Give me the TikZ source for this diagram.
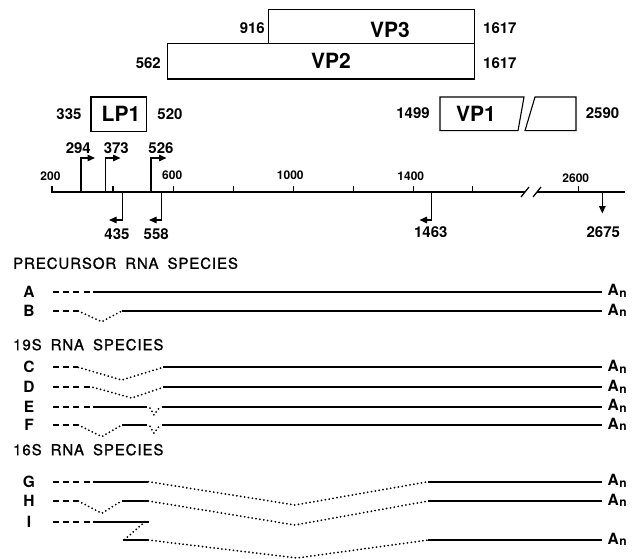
\documentclass[tikz,border=0pt]{standalone}
\usepackage{fontspec}
\setmainfont{TeX Gyre Heros}
\newfontfamily\headfont[FakeBold=1.2,LetterSpace=6]{TeX Gyre Heros}
\usetikzlibrary{arrows.meta}
\begin{document}
\begin{tikzpicture}[x=1pt,y=-1pt,
  num/.style={inner sep=0pt,font=\fontsize{15}{15}\selectfont\bfseries},
  ticklab/.style={inner sep=0pt,font=\fontsize{12}{12}\selectfont\bfseries},
  big/.style={inner sep=0pt,font=\fontsize{21}{21}\selectfont\bfseries},
  head/.style={inner sep=0pt,anchor=west,font=\fontsize{15}{15}\headfont},
  rowlab/.style={inner sep=0pt,font=\fontsize{15.5}{15.5}\selectfont\bfseries},
  boxline/.style={draw,line width=1.1pt},
  axisline/.style={line width=1.8pt},
  tickline/.style={line width=1.3pt},
  sig/.style={line width=1.4pt,-{Triangle[length=7.5pt,width=6.5pt]}},
  rna/.style={line width=1.8pt},
  dsh/.style={line width=1.7pt,dash pattern=on 6pt off 4.2pt},
  dts/.style={line width=2pt,line cap=round,dash pattern=on 0pt off 3.9pt},
]
\useasboundingbox (0,0) rectangle (634,559);

% ---- protein boxes ----
\draw[boxline] (268.3,9.3) rectangle (474.3,43.3);
\node[big] (vp3) at (390,29.5) {VP3};
\draw[boxline] (167.7,43.3) rectangle (474.3,79);
\node[big] (vp2) at (331,60.5) {VP2};
\node[num,anchor=east] (n916) at (265,28) {916};
\node[num,anchor=west] (n1617a) at (483,28) {1617};
\node[num,anchor=east] (n562) at (161,63.3) {562};
\node[num,anchor=west] (n1617b) at (483,63.3) {1617};

\draw[boxline] (91,97) rectangle (146.7,131.7);
\node[big] (lp1) at (121,114) {LP1};
\node[num] (n335) at (69,113.8) {335};
\node[num] (n520) at (170,113.8) {520};

\draw[boxline] (440,97) -- (524,97) -- (518,130.7) -- (440,130.7) -- cycle;
\draw[boxline] (535,97) -- (576,97) -- (576,130.7) -- (525,130.7) -- cycle;
\node[big] (vp1) at (476,113.5) {VP1};
\node[num] (n1499) at (413,113.5) {1499};
\node[num] (n2590) at (602.5,113.5) {2590};

% ---- map axis ----
\coordinate (axL) at (51,192);
\coordinate (axB1) at (525,192);
\coordinate (axB2) at (537,192);
\coordinate (axR) at (625,192);
\draw[axisline] (axL) -- (axB1);
\draw[axisline] (axB2) -- (axR);
\draw[line width=1.3pt] (521,197) -- (529,187);
\draw[line width=1.3pt] (533,197) -- (541,187);
\foreach \x in {52,113,173.3,233.3,293.3,353.3,413.3,472.7,578.3}
  \draw[tickline] (\x,192) -- (\x,185.5);
\node[ticklab] (t200) at (50.5,176.7) {200};
\node[ticklab] (t600) at (172.2,175.5) {600};
\node[ticklab] (t1000) at (290.3,175.5) {1000};
\node[ticklab] (t1400) at (410.8,176.5) {1400};
\node[ticklab] (t2600) at (575.8,178.5) {2600};

% promoters (up arrows)
\draw[sig] (81,192) |- (95,158);
\draw[sig] (105.3,192) |- (120.5,158);
\draw[sig] (151,192) |- (166.5,158);
\node[num] (p294) at (78.3,148.3) {294};
\node[num] (p373) at (116.3,148.3) {373};
\node[num] (p526) at (161,148.3) {526};

% down arrows
\draw[sig] (122.3,192) |- (109,220);
\draw[sig] (161.7,192) |- (149,220);
\draw[sig] (431.7,192) |- (419.5,220);
\draw[sig] (602.3,192) -- (602.3,213.5);
\node[num] (d435) at (117,233.8) {435};
\node[num] (d558) at (156.2,233.8) {558};
\node[num] (d1463) at (430.8,232.5) {1463};
\node[num] (d2675) at (603.3,232.5) {2675};

% ---- headers ----
\node[head] (h1) at (13,263.3) {PRECURSOR\hspace{0.6em}RNA\hspace{0.6em}SPECIES};
\node[head] (h2) at (13,344.7) {19S\hspace{0.6em}RNA\hspace{0.6em}SPECIES};
\node[head] (h3) at (13,449.7) {16S\hspace{0.6em}RNA\hspace{0.6em}SPECIES};

% row labels
\foreach \l/\y in {A/291.5,B/310.8,C/367.1,D/387.1,E/406.5,F/424.8,G/481.5,H/500.8,I/521.5}
  \node[rowlab] (lab\l) at (29,\y) {\l};

% poly(A) tails
\foreach \nm/\y in {a/291.7,b/311,c/367.3,d/387.3,e/406.7,f/425,g/481.7,h/501,i/540}
  \node[inner sep=0pt,anchor=base west] (pa\nm) at (607.5,\y+4)
   {\fontsize{15.5}{15.5}\selectfont\bfseries A\kern0.6pt\raisebox{-1.8pt}{\fontsize{12}{12}\selectfont\bfseries n}};

% ---- RNA species ----
% A
\draw[dsh] (53,291.7) -- (92,291.7);
\draw[rna] (93,291.7) -- (601.7,291.7);
% B
\draw[dsh] (53,311) -- (78,311);
\draw[dts] (78.3,311) -- (101.7,321.7) -- (121.7,311);
\draw[rna] (121.7,311) -- (601.7,311);
% C
\draw[dsh] (53,367.3) -- (78,367.3);
\draw[dts] (78.3,367.3) -- (121.7,380) -- (163.3,367.3);
\draw[rna] (163.3,367.3) -- (601.7,367.3);
% D
\draw[dsh] (53,387.3) -- (92,387.3);
\draw[dts] (93,387.3) -- (131.7,398) -- (163.3,387.3);
\draw[rna] (163.3,387.3) -- (601.7,387.3);
% E
\draw[dsh] (53,406.7) -- (92,406.7);
\draw[rna] (93,406.7) -- (147,406.7);
\draw[dts] (150,408) -- (154,415) -- (159,408);
\draw[rna] (161.7,406.7) -- (601.7,406.7);
% F
\draw[dsh] (53,425) -- (78,425);
\draw[dts] (78.3,425) -- (101.7,436.7) -- (121.7,425);
\draw[rna] (121.7,425) -- (147,425);
\draw[dts] (150,426.3) -- (154,433.3) -- (159,426.3);
\draw[rna] (161.7,425) -- (601.7,425);
% G
\draw[dsh] (53,481.7) -- (92,481.7);
\draw[rna] (93,481.7) -- (148.3,481.7);
\draw[dts] (148.3,481.7) -- (295,505) -- (428.3,481.7);
\draw[rna] (428.3,481.7) -- (601.7,481.7);
% H
\draw[dsh] (53,501) -- (78,501);
\draw[dts] (78.3,501) -- (101.7,513.3) -- (121.7,501);
\draw[rna] (121.7,501) -- (148.3,501);
\draw[dts] (148.3,501) -- (295,525) -- (428.3,501);
\draw[rna] (428.3,501) -- (601.7,501);
% I
\draw[dsh] (53,521.7) -- (92,521.7);
\draw[rna] (93,521.7) -- (149,521.7);
\draw[dts] (145,521.7) -- (124,540);
\draw[rna] (122.7,540) -- (148.3,540);
\draw[dts] (148.3,540) -- (297,558) -- (428.3,540);
\draw[rna] (428.3,540) -- (601.7,540);
\end{tikzpicture}
\end{document}
